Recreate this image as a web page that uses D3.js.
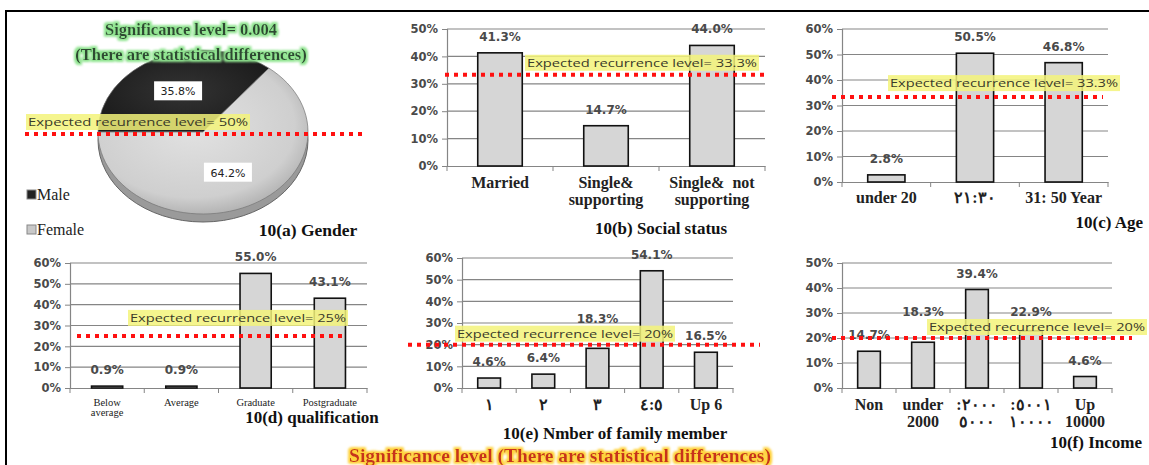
<!DOCTYPE html>
<html><head><meta charset="utf-8">
<script src="https://cdn.jsdelivr.net/npm/d3@7"></script>
<style>body{margin:0;background:#fff;} svg{display:block;} text{white-space:pre;}</style>
</head><body>
<svg id="c" width="1149" height="465"></svg>
<script>
// ---------------- data ----------------
const genderCats = ["Male", "Female"];
const genderVals = [35.8, 64.2];
const socialCats = [["Married"], ["Single&", "supporting"], ["Single&  not", "supporting"]];
const socialVals = [41.3, 14.7, 44.0];
const ageCats = [["under 20"], ["٢١:٣٠"], ["31: 50 Year"]];
const ageVals = [2.8, 50.5, 46.8];
const qualCats = [["Below", "average"], ["Average"], ["Graduate"], ["Postgraduate"]];
const qualVals = [0.9, 0.9, 55.0, 43.1];
const familyCats = [["١"], ["٢"], ["٣"], ["٤:٥"], ["Up 6"]];
const familyVals = [4.6, 6.4, 18.3, 54.1, 16.5];
const incomeCats = [["Non"], ["under", "2000"], [":٢٠٠٠", "٥٠٠٠"], [":٥٠٠١", "١٠٠٠٠"], ["Up", "10000"]];
const incomeVals = [14.7, 18.3, 39.4, 22.9, 4.6];
const ticks50 = [0, 10, 20, 30, 40, 50];
const ticks60 = [0, 10, 20, 30, 40, 50, 60];
const expectedLevels = [50, 33.3, 33.3, 25, 20, 20];
const expectedLabels = ["Expected recurrence level= 50%", "Expected recurrence level= 33.3%", "Expected recurrence level= 33.3%",
  "Expected recurrence level= 25%", "Expected recurrence level= 20%", "Expected recurrence level= 20%"];
const chartTitles = ["10(a) Gender", "10(b) Social status", "10(c) Age", "10(d) qualification", "10(e) Nmber of family member", "10(f) Income"];
const significanceTop = ["Significance level= 0.004", "(There are statistical differences)"];
const significanceBottom = "Significance level (There are statistical differences)";

// ---------------- drawing ----------------
const svg = d3.select("#c");
const defs = svg.append("defs");
function glow(id, color, r, sd) {
  const f = defs.append("filter").attr("id", id).attr("x", "-10%").attr("y", "-50%").attr("width", "120%").attr("height", "200%");
  f.append("feMorphology").attr("in", "SourceAlpha").attr("operator", "dilate").attr("radius", r).attr("result", "d");
  f.append("feGaussianBlur").attr("in", "d").attr("stdDeviation", sd).attr("result", "b");
  f.append("feFlood").attr("flood-color", color).attr("result", "c");
  f.append("feComposite").attr("in", "c").attr("in2", "b").attr("operator", "in").attr("result", "g");
  const m = f.append("feMerge");
  m.append("feMergeNode").attr("in", "g");
  m.append("feMergeNode").attr("in", "SourceGraphic");
}
glow("gGreen", "#8fe48f", 1.6, 1.2);
glow("gYellow", "#ffd23c", 1.8, 1.3);
const fg = defs.append("radialGradient").attr("id", "fem").attr("cx", "45%").attr("cy", "40%").attr("r", "65%");
fg.append("stop").attr("offset", "0%").attr("stop-color", "#e2e2e2");
fg.append("stop").attr("offset", "75%").attr("stop-color", "#cfcfcf");
fg.append("stop").attr("offset", "100%").attr("stop-color", "#a9a9a9");
const mg = defs.append("radialGradient").attr("id", "male").attr("cx", "50%").attr("cy", "50%").attr("r", "60%");
mg.append("stop").attr("offset", "0%").attr("stop-color", "#333");
mg.append("stop").attr("offset", "100%").attr("stop-color", "#1a1a1a");

// frame
svg.append("path").attr("d", "M6,465 V11 H1149").attr("fill", "none").attr("stroke", "#000").attr("stroke-width", 2);

const SERIF = "'Liberation Serif','Times New Roman',serif";
const SANS = "'DejaVu Sans',Verdana,sans-serif";

function expectedLine(x0, x1, y, label, tx, tw, ty) {
  const g = svg.append("g");
  g.append("rect").attr("x", tx - 2).attr("y", ty - 8).attr("width", tw + 4).attr("height", 16)
    .attr("fill", "#f3f37a").attr("opacity", 0.85);
  g.append("text").attr("x", tx).attr("y", ty + 4).attr("font-family", "'Open Sans',Calibri,sans-serif")
    .attr("font-size", 11.5).attr("fill", "#3a3a2a").attr("textLength", tw).attr("lengthAdjust", "spacingAndGlyphs").text(label);
  g.append("line").attr("x1", x0).attr("x2", x1).attr("y1", y).attr("y2", y)
    .attr("stroke", "#ff1010").attr("stroke-width", 4).attr("stroke-dasharray", "4,5");
  return {x0: tx - 2, x1: tx + tw + 2, y0: ty - 8, y1: ty + 8};
}

// ---- pie (a) ----
(function () {
  const cx = 203, cy = 132, rx = 105, ry = 82;
  svg.append("ellipse").attr("cx", cx).attr("cy", cy + 8).attr("rx", rx).attr("ry", ry)
    .attr("fill", "#9a9a9a").attr("stroke", "#666").attr("stroke-width", 1);
  const g = svg.append("g").attr("transform", `translate(${cx},${cy}) scale(1,${ry / rx})`);
  const arcs = d3.pie().sort(null).startAngle(-Math.PI / 2).endAngle(1.5 * Math.PI)(genderVals);
  const arc = d3.arc().innerRadius(0).outerRadius(rx);
  g.selectAll("path").data(arcs).join("path").attr("d", arc)
    .attr("fill", (d, i) => i ? "url(#fem)" : "url(#male)").attr("stroke", "#777").attr("stroke-width", 0.8);
  const lab = d3.arc().innerRadius(0).outerRadius(rx * 1.1);
  arcs.forEach(d => {
    const c = lab.centroid(d);
    const px = cx + c[0], py = cy + c[1] * ry / rx;
    svg.append("rect").attr("x", px - 24).attr("y", py - 10).attr("width", 48).attr("height", 19).attr("fill", "#fff");
    svg.append("text").attr("x", px).attr("y", py + 4).attr("text-anchor", "middle").attr("font-family", SANS)
      .attr("font-size", 11).attr("fill", "#222").text(d.data.toFixed(1) + "%");
  });
  // legend
  genderCats.forEach((c, i) => {
    const y = 200 + i * 35;
    svg.append("rect").attr("x", 27).attr("y", y - 10).attr("width", 9).attr("height", 9)
      .attr("fill", i ? "#c8c8c8" : "#222").attr("stroke", "#888").attr("stroke-width", 1);
    svg.append("text").attr("x", 37).attr("y", y).attr("font-family", SERIF).attr("font-size", 16).attr("fill", "#222").text(c);
  });
  svg.append("text").attr("x", 308).attr("y", 236).attr("text-anchor", "middle").attr("font-family", SERIF)
    .attr("font-weight", "bold").attr("font-size", 17.5).attr("fill", "#111").text(chartTitles[0]);
  significanceTop.forEach((t, i) => {
    svg.append("text").attr("x", 191).attr("y", 35 + i * 25).attr("text-anchor", "middle").attr("font-family", SERIF)
      .attr("font-weight", "bold").attr("font-size", 16.5).attr("fill", "#2f4a33").attr("filter", "url(#gGreen)").text(t);
  });
  expectedLine(25, 365, cy + 2, expectedLabels[0], 28, 220, 122);
})();

// ---- bar charts ----
function barChart(o) {
  const n = o.cats.length;
  const x = d3.scaleBand().domain(d3.range(n)).range([o.x0, o.x1]).paddingInner(0.58).paddingOuter(0.29);
  const y = d3.scaleLinear().domain([0, d3.max(o.ticks)]).range([o.yb, o.yt]);
  const g = svg.append("g");
  // gridlines
  g.selectAll("line.grid").data(o.ticks.slice(1)).join("line").attr("class", "grid")
    .attr("x1", o.x0).attr("x2", o.x1).attr("y1", d => y(d)).attr("y2", d => y(d))
    .attr("stroke", "#858585").attr("stroke-width", 1.2);
  // y axis
  const ya = g.append("g").attr("transform", `translate(${o.x0},0)`)
    .call(d3.axisLeft(y).tickValues(o.ticks).tickSize(5).tickPadding(4).tickFormat(d => d + "%"));
  ya.select(".domain").attr("stroke", "#858585").attr("stroke-width", 1.2);
  ya.selectAll(".tick line").attr("stroke", "#858585");
  ya.selectAll(".tick text").attr("font-family", SANS).attr("font-weight", "bold").attr("font-size", 11.5).attr("fill", "#4a4a4a");
  // x axis
  const xa = g.append("g").attr("transform", `translate(0,${o.yb})`)
    .call(d3.axisBottom(x).tickSize(0).tickFormat(""));
  xa.select(".domain").attr("stroke", "#858585").attr("stroke-width", 1.2);
  g.selectAll("line.xt").data(d3.range(n + 1)).join("line").attr("class", "xt")
    .attr("x1", i => o.x0 + i * x.step()).attr("x2", i => o.x0 + i * x.step())
    .attr("y1", o.yb).attr("y2", o.yb + 5).attr("stroke", "#858585");
  // bars
  g.selectAll("rect.bar").data(o.vals).join("rect").attr("class", "bar")
    .attr("x", (d, i) => x(i)).attr("width", x.bandwidth())
    .attr("y", d => y(d)).attr("height", d => y(0) - y(d))
    .attr("fill", "#d6d6d6").attr("stroke", "#111").attr("stroke-width", 1.6);
  // title
  g.append("text").attr("x", o.tx).attr("y", o.ty).attr("text-anchor", o.ta).attr("font-family", SERIF)
    .attr("font-weight", "bold").attr("font-size", 17).attr("fill", "#111").text(o.title);
  // expected level
  const box = expectedLine(o.ex0, o.ex1, y(o.level), o.elabel, o.etx, o.etw, y(o.level) + o.etdy);
  // value labels (lifted above the expected-level note when they would collide with it)
  o.vals.forEach((d, i) => {
    const cxl = x(i) + x.bandwidth() / 2;
    let by = y(d) - 12;
    const hw = 20;
    if (cxl + hw > box.x0 && cxl - hw < box.x1 && by > box.y0 - 3 && by - 11 < box.y1) by = box.y0 - 3;
    g.append("text").attr("x", cxl).attr("y", by)
      .attr("text-anchor", "middle").attr("font-family", SANS).attr("font-weight", "bold").attr("font-size", 12)
      .attr("fill", "#4a4a4a").text(d.toFixed(1) + "%");
  });
  // category labels
  o.cats.forEach((lines, i) => {
    lines.forEach((t, k) => {
      g.append("text").attr("x", x(i) + x.bandwidth() / 2).attr("y", o.yb + o.lab0 + k * o.labH)
        .attr("text-anchor", "middle").attr("font-family", SERIF).attr("font-weight", o.labW)
        .attr("font-size", o.labSize).attr("fill", "#222").text(t);
    });
  });
}

barChart({cats: socialCats, vals: socialVals, ticks: ticks50, x0: 447, x1: 765, yb: 166, yt: 29,
  lab0: 22, labH: 17, labSize: 16, labW: "bold", title: chartTitles[1], tx: 661, ty: 234, ta: "middle",
  level: expectedLevels[1], elabel: expectedLabels[1], ex0: 445, ex1: 765, etx: 527, etw: 230, etdy: -12});
barChart({cats: ageCats, vals: ageVals, ticks: ticks60, x0: 842, x1: 1108, yb: 182, yt: 29,
  lab0: 21, labH: 17, labSize: 16, labW: "bold", title: chartTitles[2], tx: 1143, ty: 228, ta: "end",
  level: expectedLevels[2], elabel: expectedLabels[2], ex0: 832, ex1: 1103, etx: 890, etw: 228, etdy: -14});
barChart({cats: qualCats, vals: qualVals, ticks: ticks60, x0: 70, x1: 367, yb: 388, yt: 263,
  lab0: 18, labH: 10, labSize: 10.5, labW: "normal", title: chartTitles[3], tx: 312, ty: 423, ta: "middle",
  level: expectedLevels[3], elabel: expectedLabels[3], ex0: 77, ex1: 342, etx: 130, etw: 216, etdy: -18});
barChart({cats: familyCats, vals: familyVals, ticks: ticks60, x0: 462, x1: 733, yb: 388, yt: 258,
  lab0: 22, labH: 17, labSize: 16, labW: "bold", title: chartTitles[4], tx: 615, ty: 439, ta: "middle",
  level: expectedLevels[4], elabel: expectedLabels[4], ex0: 408, ex1: 760, etx: 457, etw: 216, etdy: -11});
barChart({cats: incomeCats, vals: incomeVals, ticks: ticks50, x0: 842, x1: 1112, yb: 388, yt: 263,
  lab0: 22, labH: 17, labSize: 16, labW: "bold", title: chartTitles[5], tx: 1142, ty: 448, ta: "end",
  level: expectedLevels[5], elabel: expectedLabels[5], ex0: 832, ex1: 1132, etx: 929, etw: 216, etdy: -11});

svg.append("text").attr("x", 560).attr("y", 462).attr("text-anchor", "middle").attr("font-family", SERIF)
  .attr("font-weight", "bold").attr("font-size", 19.5).attr("fill", "#c8301a").attr("filter", "url(#gYellow)")
  .text(significanceBottom);
</script>
</body></html>
